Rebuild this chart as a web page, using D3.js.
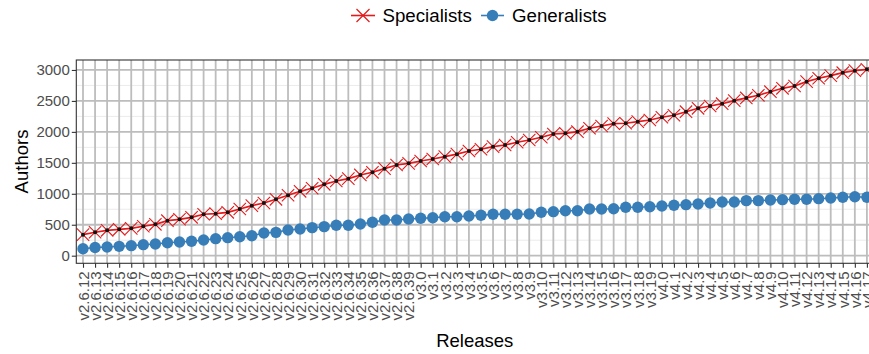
<!DOCTYPE html>
<html><head><meta charset="utf-8">
<script src="https://cdn.jsdelivr.net/npm/d3@7"></script>
<style>
html,body{margin:0;padding:0;background:#fff;}
svg{display:block;font-family:"Liberation Sans",Arial,sans-serif;}
</style></head>
<body><svg id="chart" width="869" height="354"></svg>
<script>
const releases = [];
for (let i = 12; i <= 39; i++) releases.push("v2.6." + i);
for (let i = 0; i <= 19; i++) releases.push("v3." + i);
for (let i = 0; i <= 17; i++) releases.push("v4." + i);

const specialists = [340,378,410,426,442,475,507,565,588,620,669,679,701,754,808,851,911,976,1040,1089,
  1153,1207,1244,1304,1347,1406,1465,1492,1530,1562,1600,1640,1691,1719,1761,1788,1832,1869,1913,1966,
  1977,2003,2058,2095,2133,2139,2165,2192,2236,2268,2326,2381,2418,2455,2504,2548,2591,2649,2704,2741,
  2811,2866,2908,2956,2989,3010];
const generalists = [112,132,140,151,162,178,189,210,221,232,254,275,291,307,323,367,377,415,431,453,
  469,491,491,512,539,577,577,593,604,614,630,630,641,652,669,669,669,674,701,711,
  727,727,754,754,759,782,782,790,803,814,824,835,851,867,867,889,889,900,905,911,
  911,921,932,943,953,945];
const yTicks = [0,500,1000,1500,2000,2500,3000];
const yMinor = [250,750,1250,1750,2250,2750];
const seriesNames = ["Specialists","Generalists"];

const svg = d3.select("#chart");
const red = "#E41A1C", blue = "#377EB8";
const panel = {left: 76.3, top: 60, right: 874, bottom: 263.3};

const x = d3.scalePoint().domain(releases).range([83, 866.9]);
const y = d3.scaleLinear().domain([-123, 3161]).range([panel.bottom, panel.top]);

const g = svg.append("g");
g.append("rect").attr("x", panel.left).attr("y", panel.top)
  .attr("width", panel.right - panel.left).attr("height", panel.bottom - panel.top).attr("fill", "#fff");
g.selectAll(".ymin").data(yMinor).join("line")
  .attr("x1", panel.left).attr("x2", panel.right)
  .attr("y1", d => y(d)).attr("y2", d => y(d))
  .attr("stroke", "#ebebeb").attr("stroke-width", 1);
g.selectAll(".ymaj").data(yTicks).join("line")
  .attr("x1", panel.left).attr("x2", panel.right)
  .attr("y1", d => y(d)).attr("y2", d => y(d))
  .attr("stroke", "#bdbdbd").attr("stroke-width", 1.8);
g.selectAll(".xmaj").data(releases).join("line")
  .attr("x1", d => x(d)).attr("x2", d => x(d))
  .attr("y1", panel.top).attr("y2", panel.bottom)
  .attr("stroke", "#bdbdbd").attr("stroke-width", 1.8);

const lineG = d3.line().x((d, i) => x(releases[i])).y(d => y(d));
g.append("path").datum(generalists).attr("d", lineG)
  .attr("fill", "none").attr("stroke", blue).attr("stroke-width", 1.5);
g.selectAll(".gpt").data(generalists).join("circle")
  .attr("cx", (d, i) => x(releases[i])).attr("cy", d => y(d))
  .attr("r", 5.7).attr("fill", blue);

const xs = 6.2;
g.selectAll(".sx").data(specialists).join("path")
  .attr("d", (d, i) => {
    const cx = x(releases[i]), cy = y(d);
    return `M${cx - xs},${cy - xs}L${cx + xs},${cy + xs}M${cx - xs},${cy + xs}L${cx + xs},${cy - xs}`;
  })
  .attr("stroke", red).attr("stroke-width", 1.1).attr("fill", "none");
g.append("path").datum(specialists).attr("d", lineG)
  .attr("fill", "none").attr("stroke", red).attr("stroke-width", 1.7);
g.selectAll(".sd").data(specialists).join("circle")
  .attr("cx", (d, i) => x(releases[i])).attr("cy", d => y(d))
  .attr("r", 2).attr("fill", "#111");

g.append("rect").attr("x", panel.left).attr("y", panel.top)
  .attr("width", panel.right - panel.left).attr("height", panel.bottom - panel.top)
  .attr("fill", "none").attr("stroke", "#333").attr("stroke-width", 1.1);

const yAxis = svg.append("g").attr("transform", `translate(${panel.left},0)`)
  .call(d3.axisLeft(y).tickValues(yTicks).tickSize(4.5).tickPadding(2).tickFormat(d3.format("d")));
yAxis.select(".domain").remove();
yAxis.selectAll("line").attr("stroke", "#333").attr("stroke-width", 1.1);
yAxis.selectAll("text").attr("fill", "#4d4d4d").style("font-size", "15px")
  .style("font-family", "'Liberation Sans',Arial,sans-serif");

const xAxis = svg.append("g").attr("transform", `translate(0,${panel.bottom})`)
  .call(d3.axisBottom(x).tickSize(4.5).tickPadding(2));
xAxis.select(".domain").remove();
xAxis.selectAll("line").attr("stroke", "#333").attr("stroke-width", 1.1);
xAxis.selectAll("text").attr("fill", "#4d4d4d").style("font-size", "15px")
  .style("font-family", "'Liberation Sans',Arial,sans-serif")
  .attr("transform", "rotate(-90)")
  .attr("text-anchor", "end").attr("dy", "0.35em").attr("x", -8).attr("y", 0);

svg.append("text").attr("x", 474.7).attr("y", 347.3).attr("text-anchor", "middle")
  .style("font-size", "18.5px").attr("fill", "#000").text("Releases");
svg.append("text").attr("transform", "translate(27.5,161.5) rotate(-90)").attr("text-anchor", "middle")
  .style("font-size", "18.5px").attr("fill", "#000").text("Authors");

const leg = svg.append("g");
const ly = 15.5;
leg.append("line").attr("x1", 351).attr("x2", 375).attr("y1", ly).attr("y2", ly)
  .attr("stroke", red).attr("stroke-width", 1.6);
leg.append("path").attr("d", `M${363 - 6.5},${ly - 6.5}L${363 + 6.5},${ly + 6.5}M${363 - 6.5},${ly + 6.5}L${363 + 6.5},${ly - 6.5}`)
  .attr("stroke", red).attr("stroke-width", 1.2);
leg.append("text").attr("x", 382.5).attr("y", ly).attr("dy", "0.35em")
  .style("font-size", "18.7px").attr("fill", "#000").text(seriesNames[0]);
leg.append("line").attr("x1", 481).attr("x2", 504).attr("y1", ly).attr("y2", ly)
  .attr("stroke", blue).attr("stroke-width", 1.6);
leg.append("circle").attr("cx", 492.5).attr("cy", ly).attr("r", 5.7).attr("fill", blue);
leg.append("text").attr("x", 512).attr("y", ly).attr("dy", "0.35em")
  .style("font-size", "18.7px").attr("fill", "#000").text(seriesNames[1]);
</script></body></html>
